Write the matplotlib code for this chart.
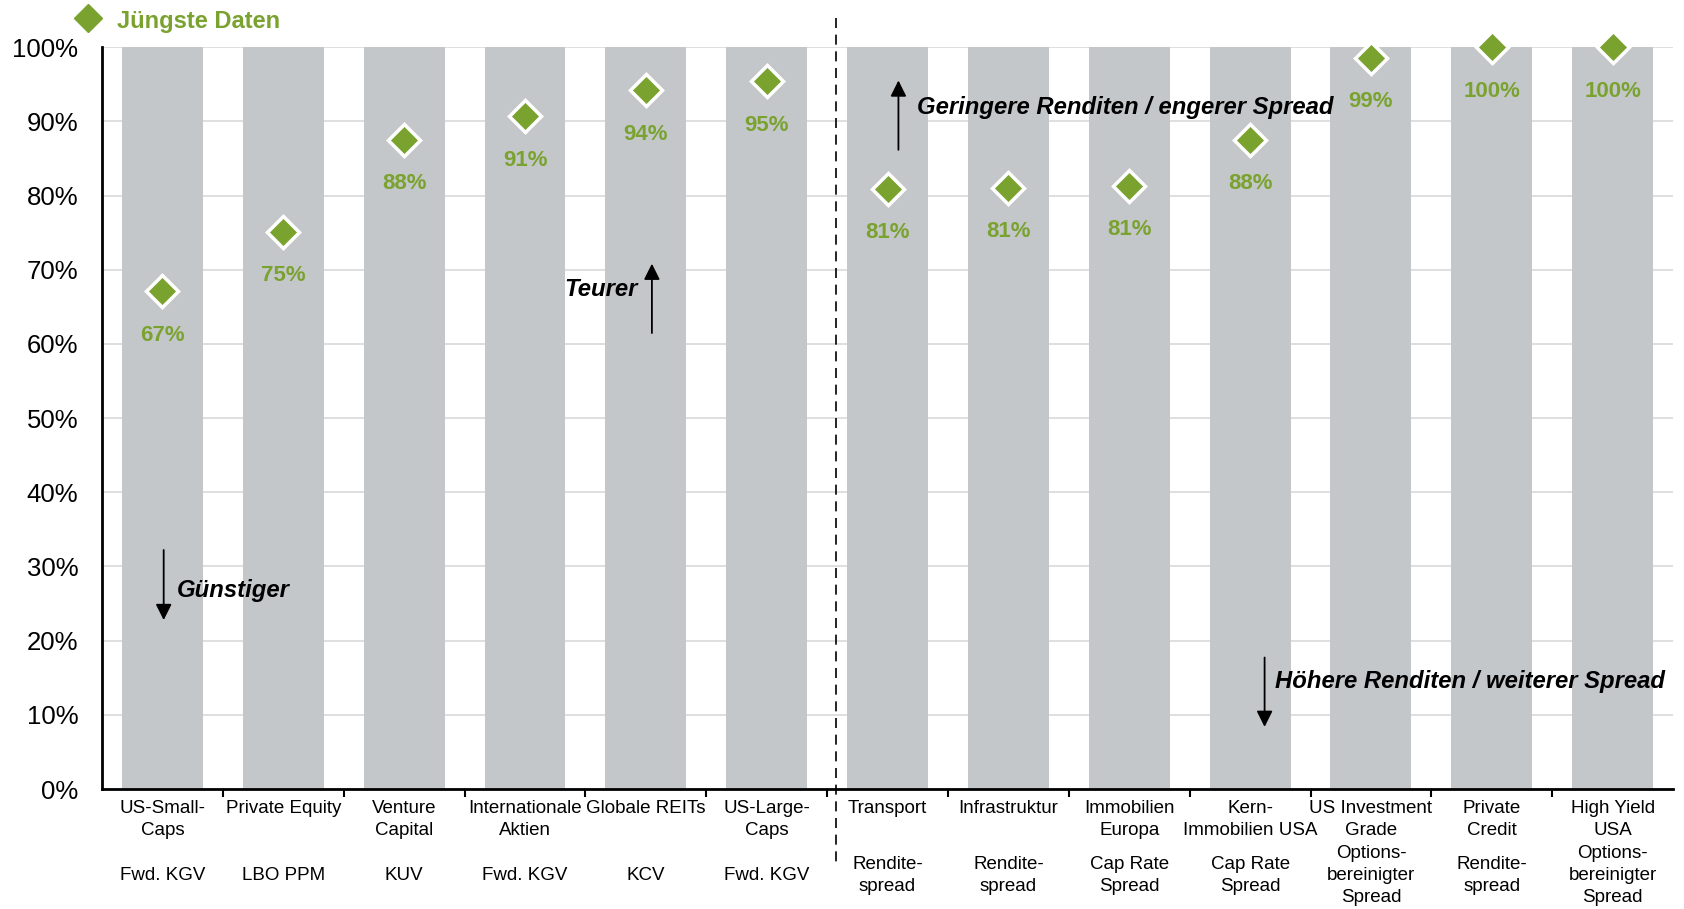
import matplotlib
matplotlib.use("Agg")
import matplotlib.pyplot as plt
from matplotlib.transforms import blended_transform_factory

plt.rcParams['font.family'] = ['Liberation Sans', 'DejaVu Sans']

categories = ["US-Small-\nCaps", "Private Equity", "Venture\nCapital", "Internationale\nAktien",
              "Globale REITs", "US-Large-\nCaps", "Transport", "Infrastruktur", "Immobilien\nEuropa",
              "Kern-\nImmobilien USA", "US Investment\nGrade", "Private\nCredit", "High Yield\nUSA"]
metrics = ["Fwd. KGV", "LBO PPM", "KUV", "Fwd. KGV", "KCV", "Fwd. KGV",
           "Rendite-\nspread", "Rendite-\nspread", "Cap Rate\nSpread", "Cap Rate\nSpread",
           "Options-\nbereinigter\nSpread", "Rendite-\nspread", "Options-\nbereinigter\nSpread"]
latest = [67.1, 75.1, 87.5, 90.7, 94.2, 95.4, 80.9, 81.0, 81.3, 87.5, 98.6, 100, 100]
labels = ["67%", "75%", "88%", "91%", "94%", "95%", "81%", "81%", "81%", "88%", "99%", "100%", "100%"]
bar_max = [100] * 13
yticks = list(range(0, 101, 10))

GREEN = "#7AA22F"
GRAY = "#C4C7CA"

fig = plt.figure(figsize=(16.84, 9.09), dpi=100)
ax = fig.add_axes([0.0606, 0.132, 0.9329, 0.816])

x = list(range(len(categories)))
ax.bar(x, bar_max, width=0.67, color=GRAY, zorder=2)
ax.set_xlim(-0.5, len(categories) - 0.5)
ax.set_ylim(0, 100)

ax.set_yticks(yticks)
ax.set_yticklabels([f"{v}%" for v in yticks], fontsize=18.5)
ax.tick_params(axis='y', length=0, pad=17)
ax.yaxis.grid(True, color="#D9D9D9", linewidth=1.2, zorder=0)
ax.set_axisbelow(True)

ax.set_xticks([i + 0.5 for i in range(len(categories) - 1)])
ax.set_xticklabels([])
ax.tick_params(axis='x', length=6, width=1.5, direction='out')
for s in ['top', 'right']:
    ax.spines[s].set_visible(False)
ax.spines['left'].set_linewidth(2)
ax.spines['bottom'].set_linewidth(2)

trans = blended_transform_factory(ax.transData, ax.transAxes)
for i, (c, m) in enumerate(zip(categories, metrics)):
    ax.text(i, -0.015, c, transform=trans, ha='center', va='top', fontsize=13.5,
            linespacing=1.4, clip_on=False)
    ax.text(i, -0.117, m, transform=trans, ha='center', va='center', fontsize=13.5,
            linespacing=1.4, clip_on=False)

ax.plot(x, latest, linestyle='none', marker='D', markersize=16, color=GREEN,
        markeredgecolor='white', markeredgewidth=2.5, zorder=4, clip_on=False)
for xi, yi, lab in zip(x, latest, labels):
    ax.annotate(lab, (xi, yi), xytext=(0, -31.5), textcoords='offset points', ha='center',
                va='center', fontsize=16, fontweight='bold', color=GREEN, zorder=5)

# separator
ax.plot([5.57, 5.57], [103.9, -10.1], linestyle=(0, (6, 4)), color='black', linewidth=1.2,
        clip_on=False, zorder=6)

# legend
ax.plot([-0.616], [103.9], marker='D', markersize=14, color=GREEN, linestyle='none', clip_on=False)
ax.text(-0.38, 103.5, "Jüngste Daten", ha='left', va='center', fontsize=17, fontweight='bold',
        color=GREEN)

# annotations
akw = dict(arrowstyle='-|>', color='black', lw=1.3, mutation_scale=24)
tkw = dict(fontsize=17.2, fontweight='bold', fontstyle='italic', va='center', zorder=7)
ax.annotate("", xy=(0.01, 22.4), xytext=(0.01, 32.6), arrowprops=akw, zorder=7)
ax.text(0.12, 26.8, "Günstiger", ha='left', **tkw)
ax.annotate("", xy=(4.05, 71.2), xytext=(4.05, 61.1), arrowprops=akw, zorder=7)
ax.text(3.93, 67.3, "Teurer", ha='right', **tkw)
ax.annotate("", xy=(6.09, 95.9), xytext=(6.09, 85.8), arrowprops=akw, zorder=7)
ax.text(6.24, 91.9, "Geringere Renditen / engerer Spread", ha='left', **tkw)
ax.annotate("", xy=(9.12, 8.0), xytext=(9.12, 18.1), arrowprops=akw, zorder=7)
ax.text(9.21, 14.5, "Höhere Renditen / weiterer Spread", ha='left', **tkw)

fig.savefig("out.png", dpi=100)
